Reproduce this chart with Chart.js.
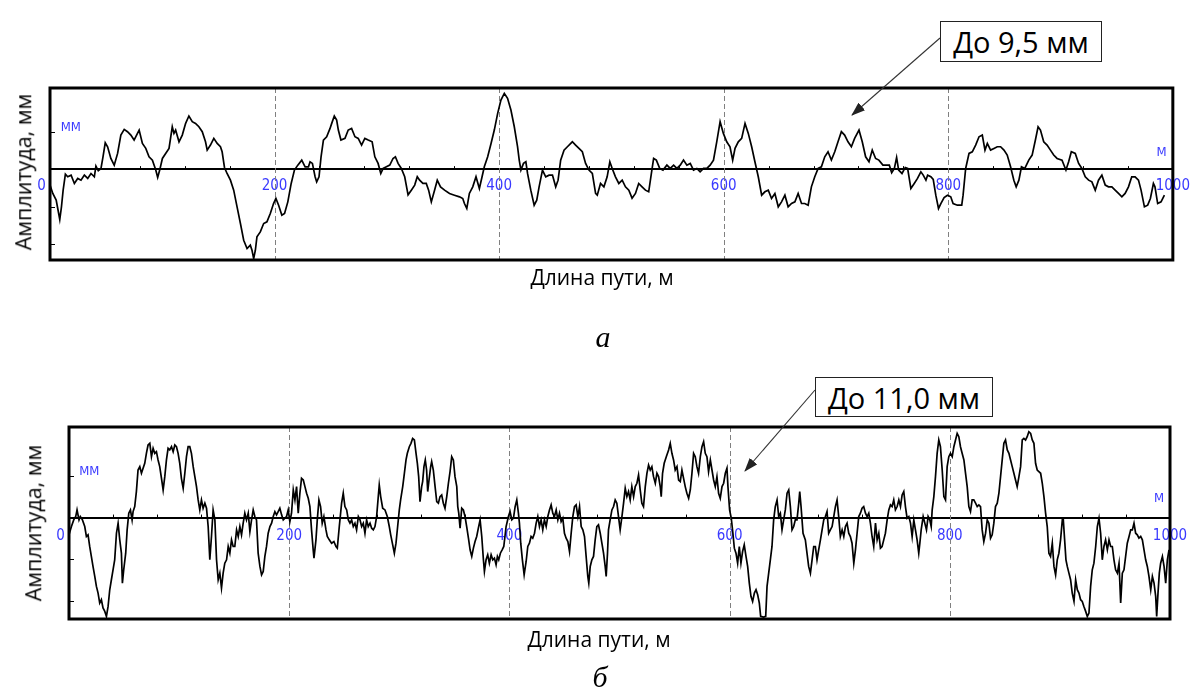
<!DOCTYPE html>
<html><head><meta charset="utf-8">
<script src="https://cdn.jsdelivr.net/npm/chart.js@4.4.1/dist/chart.umd.min.js"></script>
<style>
html,body{margin:0;padding:0;background:#fff;}
#wrap{position:relative;width:1198px;height:692px;overflow:hidden;background:#fff;font-family:"Open Sans","Noto Sans",sans-serif;color:#000;}
canvas{position:absolute;left:0;}
#cA{top:0;}
#cB{top:300px;}
.c{position:absolute;white-space:nowrap;line-height:1;transform:translate(-50%,-50%);}
.yt{position:absolute;white-space:nowrap;line-height:1;font-size:21.5px;transform:translate(-50%,-50%) rotate(-90deg);}
.xt{font-size:21px;}
.cap{font-family:"Liberation Serif","DejaVu Serif",serif;font-style:italic;font-size:30px;}
.note{position:absolute;box-sizing:border-box;border:1px solid #222;background:#fff;font-size:29px;display:flex;align-items:center;justify-content:center;line-height:1;}
svg{position:absolute;left:0;top:0;}
</style></head>
<body>
<div id="wrap">
<canvas id="cA" width="1198" height="300"></canvas>
<canvas id="cB" width="1198" height="392"></canvas>
<div class="yt" style="left:23px;top:172px">Амплитуда, мм</div>
<div class="c xt" style="left:602px;top:277px">Длина пути, м</div>
<div class="c cap" style="left:603px;top:337px">а</div>
<div class="yt" style="left:33px;top:523px">Амплитуда, мм</div>
<div class="c xt" style="left:599px;top:639px">Длина пути, м</div>
<div class="c cap" style="left:600px;top:677px">б</div>
<div class="note" style="left:940px;top:21px;width:162px;height:41px">До 9,5 мм</div>
<div class="note" style="left:815px;top:377px;width:178px;height:40px">До 11,0 мм</div>
<svg width="1198" height="692">
<defs><marker id="ah" markerUnits="userSpaceOnUse" markerWidth="14" markerHeight="10" refX="13" refY="5" orient="auto"><path d="M0,0 L14,5 L0,10 z" fill="#222"/></marker></defs>
<line x1="940" y1="38" x2="852" y2="115" stroke="#333" stroke-width="1.1" marker-end="url(#ah)"/>
<line x1="815" y1="390" x2="745" y2="471" stroke="#333" stroke-width="1.1" marker-end="url(#ah)"/>
</svg>
</div>
<script>
// ---- data (distance, m / amplitude, mm) ----
const topDist = [
0,2.5,5.5,6.9,8.7,10.2,11.7,13.7,15.8,18.8,
21.7,24.7,27.6,30.6,33.6,36.5,39.5,40.9,43.0,45.4,
47.2,49.2,51.3,54.2,57.2,60.2,63.1,66.1,69.0,72.0,
74.9,77.9,79.4,82.3,85.3,88.2,91.2,94.2,95.9,97.7,
100.1,103.0,106.0,108.9,110.4,111.9,114.9,117.8,120.8,123.7,
126.7,129.6,132.6,135.6,138.5,140.0,142.9,145.9,148.9,151.8,
153.3,155.4,157.7,160.7,163.6,166.6,169.6,172.5,175.5,178.4,
179.9,181.4,182.9,184.3,187.3,190.3,193.2,196.2,199.1,201.2,
203.6,206.5,208.9,211.8,214.8,217.7,220.7,224.2,227.2,230.2,
231.6,233.7,236.1,237.5,239.6,241.4,243.5,246.4,249.4,250.9,
253.2,255.3,256.8,259.1,262.7,265.6,268.6,271.6,274.5,277.5,
280.4,283.4,286.9,289.3,292.2,294.6,296.7,299.6,302.6,305.5,
307.6,310.0,312.9,315.9,318.9,321.8,324.8,327.1,329.2,332.1,
335.1,337.2,339.6,342.5,344.9,347.8,351.4,355.8,360.2,364.7,
367.6,369.1,371.2,373.5,376.5,379.4,382.4,384.8,386.8,389.8,
392.8,395.7,398.7,401.6,404.6,407.5,410.5,413.5,416.4,417.9,
419.4,421.7,423.8,425.3,428.2,431.2,433.5,435.6,438.6,441.5,
444.5,447.5,450.4,452.5,454.8,457.8,460.8,465.2,468.1,471.1,
474.1,477.0,480.0,483.0,485.9,487.4,490.3,493.3,496.2,498.6,
500.7,503.6,506.6,509.6,512.5,515.5,518.4,521.4,524.3,527.3,
530.3,533.2,535.6,537.6,540.0,543.0,545.9,549.4,552.4,555.4,
558.3,561.3,564.2,567.2,570.2,573.1,576.1,579.0,582.0,585.0,
587.9,590.9,593.8,596.8,599.7,602.7,605.6,608.0,610.1,613.0,
616.0,619.0,621.9,624.9,627.8,630.8,633.8,636.7,639.7,642.6,
645.6,648.6,651.5,654.5,657.4,660.4,663.4,666.3,669.3,672.2,
675.2,678.1,681.1,684.1,687.0,690.0,692.9,695.9,698.9,701.8,
704.8,707.7,710.7,713.7,716.6,720.5,723.4,726.4,729.4,732.3,
735.3,738.2,741.8,744.6,747.5,749.6,752.0,754.0,755.8,758.8,
761.7,763.8,766.7,769.7,772.6,775.6,777.7,780.1,781.6,784.5,
786.6,788.9,791.3,793.4,796.3,799.3,802.2,804.3,808.1,812.0,
813.2,815.5,818.5,821.4,824.4,827.4,830.3,832.7,834.8,837.7,
840.7,843.6,846.6,849.6,852.5,855.5,858.4,860.5,862.9,865.2,
868.2,871.7,874.7,877.6,880.0,882.1,885.0,888.0,891.0,893.9,
896.9,901.3,904.8,907.2,909.6,913.1,916.1,919.0,922.0,925.0,
927.9,930.9,933.8,936.8,939.8,942.7,945.7,948.6,951.6,954.6,
957.5,960.5,963.4,966.4,969.4,971.7,974.7,977.6,980.0,982.7,
984.1,986.5,989.5,992.5];
const topAmp = [
-2.13,-3.24,-4.13,-5.24,-6.71,-5.02,-2.80,-0.67,-1.02,-0.80,
-1.91,-1.24,-1.47,-0.80,-1.24,-0.58,-1.02,0.40,-0.22,0.09,
1.64,3.51,2.98,1.42,0.53,2.09,4.53,5.29,4.98,4.53,
3.87,4.76,5.20,3.42,2.76,1.64,1.20,-0.13,-1.11,-0.13,
1.42,2.09,2.76,5.64,4.76,5.20,3.64,4.53,6.09,7.07,
6.31,6.09,5.64,4.98,3.64,2.53,3.20,4.09,3.42,2.98,
2.31,0.22,-0.58,-1.47,-2.80,-5.02,-7.24,-9.47,-10.58,-10.13,
-10.80,-11.91,-10.80,-9.02,-8.36,-7.24,-7.02,-5.91,-4.58,-3.91,
-4.80,-6.13,-5.91,-4.36,-1.91,-0.13,0.53,1.20,0.31,0.31,
0.98,0.76,-1.02,-1.69,-1.02,1.64,3.87,4.31,5.42,6.09,
7.07,6.53,5.20,3.87,4.09,5.20,5.42,4.31,4.09,3.20,
4.09,3.87,3.64,1.64,0.76,-0.58,0.09,0.31,0.53,1.42,
1.64,0.76,0.09,-1.02,-3.42,-2.80,-2.13,-1.02,-1.47,-1.91,
-1.91,-2.80,-4.36,-2.80,-1.47,-2.36,-2.80,-3.24,-3.47,-3.69,
-3.91,-4.58,-5.24,-3.24,-2.36,-1.02,-2.58,-1.02,0.31,1.64,
3.42,5.20,7.42,9.20,10.09,9.42,7.87,5.64,2.98,1.20,
-0.13,0.76,0.98,-0.58,-2.80,-4.80,-4.13,-2.36,-0.13,-1.02,
-0.80,-0.80,-2.36,-1.47,1.20,2.53,2.98,3.64,3.20,2.76,
2.31,0.76,-0.13,-0.58,-3.24,-3.47,-1.91,-2.36,-1.02,0.98,
0.09,-1.02,-1.91,-1.47,-2.36,-2.80,-3.87,-3.24,-1.91,-2.36,
-2.80,-3.02,-0.58,1.42,1.20,0.09,-0.13,0.53,0.09,0.53,
0.09,0.53,1.20,0.53,0.76,-0.13,0.09,-0.36,0.09,0.09,
0.53,1.20,3.64,6.31,4.76,3.64,2.98,1.20,2.76,3.64,
4.09,6.09,4.76,2.98,0.98,-1.02,-3.47,-3.02,-2.80,-3.91,
-3.24,-5.02,-4.36,-3.47,-5.02,-4.58,-4.36,-3.24,-4.58,-4.58,
-4.80,-2.36,-1.02,0.09,0.31,1.64,2.31,1.20,2.31,3.64,
4.98,4.53,3.64,2.98,4.09,5.20,3.64,1.64,0.98,2.53,
1.42,1.20,0.53,0.53,0.53,-0.49,0.09,1.56,-0.13,-0.58,
0.22,0.09,-2.58,-1.91,-1.24,-0.36,-0.80,-1.47,-0.80,-1.02,
-1.38,-3.47,-5.24,-4.58,-3.78,-3.47,-3.69,-4.58,-4.80,-4.80,
-3.47,0.09,2.09,2.31,3.20,4.31,4.53,2.53,3.42,2.53,
2.76,2.98,2.98,2.53,1.87,0.31,-1.47,-2.36,-1.47,0.31,
0.09,1.20,1.87,3.87,5.64,5.20,3.64,3.20,2.53,1.87,
1.42,1.20,-0.13,0.98,2.31,2.09,0.76,0.09,-1.02,-1.47,
-1.69,-2.80,-1.47,-0.80,-2.13,-2.36,-2.36,-2.80,-3.24,-3.69,
-3.24,-2.36,-1.02,-1.02,-1.47,-2.80,-5.02,-4.80,-3.91,-1.91,
-2.36,-4.58,-4.36,-3.47];

const botDist = [
0,2.2,4.3,6.1,7.3,9.1,10.3,12.2,14.3,15.8,
17.3,18.8,20.3,21.8,23.4,24.9,26.4,27.9,29.4,30.9,
32.5,34.0,35.5,37.0,38.5,40.0,41.5,43.1,44.6,46.1,
47.6,48.5,49.7,51.5,52.8,54.3,55.8,57.3,58.2,59.7,
61.2,62.7,64.3,65.8,67.3,68.8,70.3,71.8,73.4,74.9,
76.4,77.9,79.4,80.9,82.4,84.0,85.5,87.0,88.5,90.0,
91.5,93.1,94.6,96.1,97.6,99.1,100.6,102.1,103.7,105.2,
106.7,108.2,109.7,111.2,112.8,114.3,115.8,117.3,118.8,120.3,
121.8,123.4,124.9,126.4,127.9,129.4,130.9,132.5,134.0,135.5,
137.0,138.5,140.0,141.5,143.1,144.6,146.1,147.6,149.1,150.6,
152.2,153.7,155.2,156.7,158.2,159.7,161.2,162.8,164.3,165.8,
167.3,168.8,170.3,171.8,173.4,174.9,176.4,177.9,179.4,180.9,
182.5,184.0,185.5,187.0,188.5,190.0,191.5,193.1,194.6,196.1,
197.6,199.1,200.6,202.1,203.7,205.2,206.7,208.2,209.7,211.2,
212.8,214.3,215.8,217.3,218.8,220.3,221.8,222.5,224.3,225.5,
227.0,228.5,230.0,231.5,233.4,234.6,236.4,238.5,240.6,242.5,
243.7,245.5,247.6,249.1,250.6,252.2,253.7,255.2,256.7,258.2,
259.7,261.2,262.8,264.3,265.8,267.3,268.8,270.3,271.8,273.4,
274.9,276.4,277.9,279.4,280.9,281.8,283.1,284.9,287.0,289.1,
290.9,292.2,294.0,295.5,297.0,298.5,300.0,301.2,303.1,304.6,
306.1,307.3,309.1,310.6,312.1,313.7,315.2,316.4,317.6,318.8,
320.3,321.2,322.4,323.6,324.8,325.8,327.0,328.5,329.4,330.9,
332.5,334.0,335.5,337.0,338.5,340.0,341.5,343.1,344.6,346.1,
347.6,349.1,350.6,352.2,353.1,354.0,355.2,356.7,358.2,359.7,
361.2,362.8,364.3,365.8,367.3,368.8,370.3,371.8,373.4,374.9,
376.4,377.3,378.8,380.3,381.8,383.4,384.9,386.4,387.9,389.1,
390.3,391.8,393.4,394.9,397.0,399.1,400.6,402.2,403.7,405.2,
406.7,408.2,409.1,410.3,411.8,413.4,415.2,416.7,418.2,419.7,
421.2,422.8,424.3,425.8,427.3,428.8,430.3,431.8,433.4,434.9,
436.4,437.9,439.4,440.9,442.5,444.0,445.5,447.0,448.5,450.0,
451.5,453.1,454.6,456.1,457.6,459.1,460.6,462.2,463.7,465.2,
466.7,468.2,469.7,471.2,472.1,473.4,474.9,476.4,477.9,479.4,
480.9,482.5,484.0,485.5,487.0,487.9,489.1,490.0,491.5,493.1,
494.6,496.1,497.6,499.1,500.6,502.2,503.7,505.2,506.7,508.2,
509.7,511.2,512.8,514.3,515.8,517.3,518.8,520.3,521.8,523.4,
524.9,526.4,527.9,529.4,530.9,532.5,534.0,535.5,537.0,537.9,
539.1,540.6,542.5,544.6,546.1,547.6,549.1,550.6,552.2,553.7,
555.2,556.7,558.2,559.7,561.2,562.8,564.3,565.8,567.3,568.8,
570.3,571.8,573.4,574.9,576.4,577.9,579.4,580.9,582.5,584.0,
585.5,587.0,588.5,590.0,591.5,593.1,594.6,596.1,597.6,598.5,
600.0,601.5,603.0,604.3,605.8,607.3,608.8,610.3,611.8,613.3,
614.9,616.4,617.9,619.4,620.9,622.5,624.0,625.5,627.0,628.2,
630.9,632.8,634.0,635.5,637.0,638.5,640.0,641.5,643.1,644.6,
646.1,647.6,649.1,650.6,652.2,653.7,655.2,656.7,658.2,659.7,
661.2,662.8,663.7,664.9,666.7,668.8,670.3,671.8,673.4,674.9,
676.4,677.9,679.4,680.9,682.5,684.0,685.5,687.0,688.5,690.0,
691.5,693.1,694.6,696.1,697.6,699.1,700.6,702.2,703.7,705.2,
706.7,708.2,709.7,711.2,712.8,714.3,715.8,717.3,718.8,720.3,
721.8,723.4,724.9,726.4,727.9,729.4,730.9,732.5,734.0,735.5,
737.0,738.5,740.0,741.5,743.1,744.6,746.1,747.6,749.1,750.6,
752.2,753.7,755.2,756.7,758.2,759.7,761.2,762.8,764.3,765.8,
767.3,768.8,770.3,771.8,772.8,774.0,775.8,777.3,778.8,780.3,
781.8,783.1,784.0,785.5,787.0,788.5,790.0,791.5,793.1,794.6,
796.1,797.6,799.1,800.6,802.2,803.7,805.2,806.7,808.2,809.7,
811.2,812.8,814.3,815.8,817.3,818.8,820.3,821.8,823.4,824.9,
826.4,827.9,829.4,830.9,832.5,834.0,835.5,837.0,838.5,840.0,
841.5,843.1,844.6,846.1,847.6,849.1,850.6,852.2,853.7,855.2,
856.7,858.2,859.7,861.2,862.8,864.3,865.8,867.3,868.8,870.3,
871.8,873.4,874.9,876.4,877.9,879.4,880.9,882.5,884.0,885.5,
887.0,888.5,890.0,891.5,893.1,894.6,896.1,897.6,899.1,900.6,
902.2,903.1,904.3,905.5,906.7,908.2,909.7,911.2,912.8,914.3,
915.8,917.3,918.8,920.3,921.8,923.4,924.9,926.4,927.9,929.4,
930.9,932.5,934.0,935.5,937.0,938.5,940.0,941.5,943.1,944.6,
946.1,947.6,949.1,950.6,952.2,953.7,955.2,956.7,958.2,959.7,
961.2,962.8,964.3,965.8,967.3,968.8,970.3,971.8,973.4,974.9,
976.4,977.9,979.4,980.9,982.5,984.0,985.5,987.0,987.9,989.1,
990.3,991.5,993.1,994.6,996.1,997.6,999.1];
const botAmp = [
-2.06,-1.07,-0.28,0.12,0.91,-0.28,0.12,-0.28,-1.07,-2.26,
-2.06,-3.45,-4.64,-5.83,-7.02,-8.21,-9.01,-10.20,-9.80,-10.79,
-11.19,-11.79,-10.60,-8.61,-7.42,-6.23,-5.04,-1.87,-0.67,-2.66,
-4.25,-7.82,-6.23,-4.25,-1.47,0.52,0.91,-0.28,0.71,1.31,
3.10,5.67,6.07,5.28,5.87,6.47,7.66,8.65,8.85,7.26,
8.25,7.66,7.86,6.87,6.07,4.68,3.29,4.88,6.87,8.25,
8.06,8.45,7.86,8.65,8.45,7.66,6.47,4.68,3.49,5.28,
7.26,8.45,8.45,7.66,6.07,4.88,3.69,2.10,0.91,2.10,
1.11,1.71,1.11,-1.07,-5.04,-2.26,0.91,-0.28,-5.04,-7.42,
-6.63,-8.41,-6.63,-5.44,-5.04,-3.45,-4.25,-2.66,-3.45,-3.45,
-1.47,-2.26,-1.07,-2.06,-0.67,0.52,-0.28,0.52,-1.67,-0.28,
0.91,0.12,-0.28,-4.25,-5.83,-6.83,-6.43,-4.64,-3.45,-1.87,
-1.07,-0.67,0.12,0.71,0.32,0.71,1.11,0.32,-0.28,-0.08,
0.12,0.91,-0.48,0.52,3.29,2.10,3.69,0.52,2.90,4.68,
4.48,3.69,2.90,2.30,1.31,-1.47,-3.85,-4.84,-2.66,-0.28,
2.10,1.31,-0.67,0.12,-1.47,-2.26,-2.66,-3.06,-2.86,-3.45,
-3.65,-1.07,1.71,2.90,1.31,0.91,-0.28,-0.67,-0.28,-1.07,
-0.67,-1.47,0.12,-0.28,-1.07,-0.67,-1.87,-0.28,-1.07,-0.67,
-1.27,-1.47,-1.07,0.12,2.50,3.89,2.50,1.11,0.91,0.12,
-1.07,-2.06,-3.25,-4.25,-3.06,-1.07,0.91,2.10,3.69,5.28,
6.87,7.66,8.45,8.85,9.44,9.25,7.66,6.47,4.88,1.90,
3.69,4.29,6.07,6.87,5.67,3.10,4.48,6.07,6.67,5.67,
3.69,1.90,1.71,2.50,2.70,1.71,1.11,2.50,4.09,5.48,
7.26,6.87,4.88,3.69,1.31,0.52,-1.27,1.11,0.91,0.12,
-1.07,-2.46,-3.85,-4.64,-3.65,-2.86,-2.26,-1.27,-0.28,-2.26,
-5.04,-6.43,-5.04,-4.44,-5.44,-4.44,-5.04,-4.84,-5.63,-4.64,
-5.04,-4.25,-3.85,-3.45,-1.07,0.12,0.71,-0.28,-0.08,1.31,
2.10,0.52,-0.67,-3.06,-5.04,-6.83,-5.24,-3.45,-3.06,-2.26,
-2.46,-1.87,-0.67,0.12,-1.07,-0.28,-1.47,-0.28,-1.07,0.12,
0.91,1.51,0.52,0.12,0.91,-0.28,0.52,-0.48,-0.08,-1.87,
-2.46,-2.86,-4.05,-1.87,0.12,1.31,1.51,0.12,1.31,-1.07,
-1.47,-2.26,-4.64,-7.02,-7.82,-5.83,-5.04,-4.64,-2.66,-1.07,
-0.87,-1.87,-3.06,-4.25,-5.83,-7.02,-4.25,-1.47,-0.28,0.91,
1.31,2.10,1.71,0.12,-1.47,0.12,1.71,3.49,2.50,3.10,
2.10,3.69,2.50,3.69,4.09,5.08,3.29,1.71,1.31,3.69,
5.28,6.27,5.67,6.07,4.88,4.09,5.28,4.88,3.69,2.50,
5.28,6.47,7.26,8.06,8.85,7.66,6.87,5.67,6.07,4.48,
4.29,5.67,4.68,3.69,2.90,2.30,3.29,5.28,7.66,7.26,
6.07,5.28,7.26,8.45,9.05,7.66,7.26,5.48,6.87,5.67,
4.48,3.69,4.88,2.90,2.30,3.69,4.09,5.28,5.87,3.69,
0.91,-0.08,-1.87,-3.65,-4.25,-5.44,-3.45,-5.44,-4.05,-3.25,
-4.64,-5.83,-7.82,-9.40,-10.00,-9.01,-8.61,-9.21,-10.20,-11.79,
-11.87,-11.79,-8.21,-6.63,-5.04,-3.45,-0.28,1.31,2.10,0.12,
0.52,-1.47,-0.28,0.91,2.90,3.29,1.31,-1.47,-1.07,-0.28,
-0.28,1.71,3.10,1.31,-1.87,-2.66,-4.25,-5.83,-6.63,-5.04,
-3.45,-3.45,-5.04,-3.85,-2.66,-1.47,-0.28,0.12,0.71,-1.87,
-1.47,-1.07,0.12,1.31,2.10,0.12,-2.26,-1.47,-2.26,-1.07,
-0.67,-1.87,-2.26,-3.06,-5.44,-3.85,-1.87,0.12,0.52,1.11,
1.31,0.52,0.12,0.52,-0.67,-2.26,-3.45,-0.67,-2.66,-1.87,
-3.65,-3.45,-2.66,-1.87,-0.28,0.91,1.51,1.31,2.10,0.91,
1.31,2.10,1.31,2.70,3.10,1.31,-0.08,0.12,-0.67,-2.26,
-0.28,-1.47,-2.66,-4.25,-3.06,-1.47,0.12,-0.67,-1.47,0.12,
-0.28,-1.07,0.91,2.50,4.88,7.66,9.25,8.45,5.67,2.50,
2.10,6.07,7.26,7.66,7.26,8.45,9.25,10.04,9.64,8.45,
7.66,6.87,5.28,3.69,1.31,0.71,2.10,2.10,1.71,1.31,
1.51,1.31,-1.47,-2.86,-1.87,-0.28,-0.67,-2.46,-2.06,-0.67,
1.31,1.71,2.90,4.88,6.87,8.85,9.25,8.06,7.66,6.87,
6.07,5.28,4.48,3.69,4.88,6.07,9.25,9.44,9.25,9.64,
10.24,10.04,9.25,8.85,6.47,5.67,5.48,5.28,4.09,2.50,
0.52,-1.07,-4.25,-4.64,-3.06,-5.83,-6.83,-5.04,-4.25,-2.66,
-0.28,-0.28,-2.66,-5.04,-5.83,-6.63,-7.42,-9.01,-10.00,-7.42,
-8.61,-9.01,-9.80,-10.00,-10.60,-11.19,-11.79,-11.39,-8.21,-6.23,
-5.44,-3.45,-1.07,-0.08,-1.87,-5.04,-3.45,-2.66,-3.85,-2.66,
-3.45,-3.45,-5.04,-6.23,-6.63,-5.44,-10.20,-6.63,-6.23,-4.64,
-3.06,-2.26,-1.47,-1.47,-0.67,-1.87,-2.06,-2.46,-2.26,-2.66,
-3.85,-5.04,-5.83,-7.02,-8.61,-7.02,-7.82,-9.40,-11.79,-9.01,
-6.63,-5.44,-4.64,-5.83,-7.82,-5.04,-3.85];

// ---- axes ----
const xTickValues = [0, 200, 400, 600, 800, 1000];
const xTickLabels = ['0', '200', '400', '600', '800', '1000'];
const gridX = [200, 400, 600, 800];
const yTickMarks = [5, -5, -10];
const yRange = [-12.1, 10.8];
const unitY = 'ММ', unitX = 'М';
const blue = '#3a3aff';
const tickFont = '"Liberation Sans Narrow","DejaVu Sans Condensed","Arial Narrow","Liberation Sans",sans-serif';

const framePlugin = {
  id: 'frame',
  beforeDatasetsDraw(chart) {
    const {ctx, chartArea: a, scales: {x, y}} = chart;
    const z = y.getPixelForValue(0);
    ctx.save();
    ctx.strokeStyle = '#808080'; ctx.lineWidth = 1; ctx.setLineDash([5, 3]);
    gridX.forEach(v => {
      const px = Math.round(x.getPixelForValue(v)) + 0.5;
      ctx.beginPath(); ctx.moveTo(px, a.top); ctx.lineTo(px, a.bottom); ctx.stroke();
    });
    ctx.setLineDash([]);
    ctx.strokeStyle = '#000';
    for (let v = 40; v < 1000; v += 40) {
      if (v % 200 === 0) continue;
      const px = Math.round(x.getPixelForValue(v)) + 0.5;
      ctx.beginPath(); ctx.moveTo(px, z); ctx.lineTo(px, z - 3); ctx.stroke();
    }
    yTickMarks.forEach(v => {
      const py = Math.round(y.getPixelForValue(v)) + 0.5;
      ctx.beginPath(); ctx.moveTo(a.left, py); ctx.lineTo(a.left + 5, py); ctx.stroke();
    });
    ctx.fillStyle = blue; ctx.font = '13px ' + tickFont;
    ctx.textAlign = 'center'; ctx.textBaseline = 'middle';
    ctx.fillText(unitY, x.getPixelForValue(18.5), y.getPixelForValue(5.5));
    ctx.fillText(unitX, x.getPixelForValue(990), y.getPixelForValue(2.2));
    ctx.restore();
  },
  afterDraw(chart) {
    const {ctx, chartArea: a} = chart;
    ctx.save();
    ctx.strokeStyle = '#000'; ctx.lineWidth = 3;
    ctx.strokeRect(a.left, a.top, a.right - a.left, a.bottom - a.top);
    ctx.restore();
  }
};

function makeChart(id, xs, ys, pad, labelPad) {
  return new Chart(document.getElementById(id), {
    type: 'line',
    data: { datasets: [{ data: xs.map((v, i) => ({x: v, y: ys[i]})), borderColor: '#000', borderWidth: 1.7, pointRadius: 0, tension: 0, fill: false }] },
    options: {
      responsive: false, animation: false, devicePixelRatio: 1,
      layout: { padding: pad },
      plugins: { legend: { display: false }, tooltip: { enabled: false } },
      scales: {
        x: {
          type: 'linear', min: 0, max: 1000, position: { y: 0 }, z: 1,
          grid: { display: true, color: 'rgba(0,0,0,0)', drawTicks: false },
          border: { display: true, color: '#000', width: 2 },
          ticks: {
            stepSize: 200, autoSkip: false, maxRotation: 0, padding: labelPad, color: blue,
            font: { family: tickFont, size: 15 },
            callback: v => { const i = xTickValues.indexOf(v); if (i < 0) return ''; return i === 0 ? xTickLabels[i] + '\u00a0\u00a0\u00a0\u00a0' : xTickLabels[i]; },
            showLabelBackdrop: true,
            backdropColor: c => c.index === 0 ? 'rgba(0,0,0,0)' : '#fff',
            backdropPadding: { left: 1, right: 1, top: 0, bottom: 0 }
          }
        },
        y: { type: 'linear', min: yRange[0], max: yRange[1], display: false }
      }
    },
    plugins: [framePlugin]
  });
}

makeChart('cA', topDist, topAmp, { left: 50, right: 20, top: 88, bottom: 40 }, 8);
makeChart('cB', botDist, botAmp, { left: 69, right: 28, top: 127, bottom: 73 }, 10);
</script>
</body></html>
